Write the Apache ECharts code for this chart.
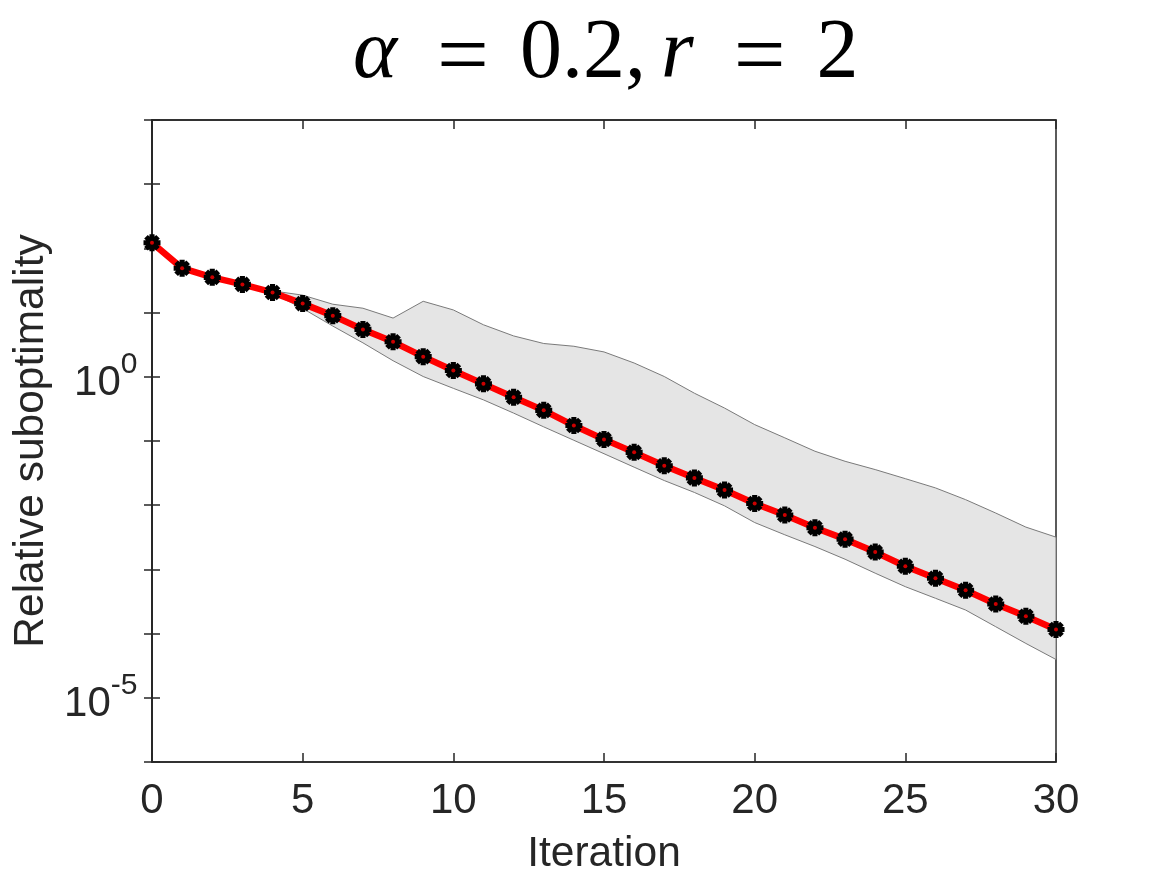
<!DOCTYPE html>
<html>
<head>
<meta charset="utf-8">
<script src="https://cdn.jsdelivr.net/npm/echarts@6/dist/echarts.min.js"></script>
<style>
  html, body { margin: 0; padding: 0; background: #fff; }
  #chart { width: 1167px; height: 875px; }
</style>
</head>
<body>
<div id="chart"></div>
<script>
// iteration index
const iters = [0, 1, 2, 3, 4, 5, 6, 7, 8, 9, 10, 11, 12, 13, 14, 15, 16, 17, 18, 19, 20,
  21, 22, 23, 24, 25, 26, 27, 28, 29, 30];
// mean relative suboptimality (red line)
const meanVals = [122.5, 49.1, 35.4, 27.5, 20.6, 13.8, 8.97, 5.47, 3.51, 2.06, 1.256,
  0.776, 0.48, 0.3, 0.174, 0.106, 0.0665, 0.0411, 0.0266, 0.01726, 0.01064,
  0.00703, 0.00445, 0.00296, 0.00186, 0.00112, 0.000728, 0.000473, 0.000289, 0.000186, 0.000116];
// upper edge of grey band
const upperVals = [122.5, 49.1, 35.4, 27.5, 21.8, 18.7, 13.5, 11.7, 8.22, 15.0, 11.0,
  6.46, 4.33, 3.3, 2.99, 2.44, 1.64, 1.01, 0.555, 0.326, 0.18,
  0.112, 0.0693, 0.0483, 0.0359, 0.0259, 0.0186, 0.0122, 0.00755, 0.00456, 0.00318];
// lower edge of grey band
const lowerVals = [122.5, 49.1, 35.4, 27.5, 20.0, 11.6, 6.17, 3.38, 1.78, 1.01, 0.661,
  0.437, 0.272, 0.166, 0.1026, 0.0634, 0.0391, 0.0242, 0.0158, 0.00977, 0.00537,
  0.00346, 0.00227, 0.00144, 0.000873, 0.000538, 0.000355, 0.000233, 0.000128, 0.0000703, 0.0000395];
// y tick exponents that get a label
const yLabelExps = [0, -5];

const sans = '"Liberation Sans", Arial, Helvetica, sans-serif';
const serif = '"Liberation Serif", "Times New Roman", serif';
const axisCol = '#262626';

// MATLAB-like '*' marker drawn thick (8 spokes)
const starPath = 'path://M0 7L20 7L20 13L0 13Z M7 0L13 0L13 20L7 20Z ' +
  'M5.05 0.81L19.19 14.95L14.95 19.19L0.81 5.05Z M14.95 0.81L19.19 5.05L5.05 19.19L0.81 14.95Z';

let chart = echarts.init(document.getElementById('chart'));

let lineData = iters.map((x, i) => [x, meanVals[i]]);

let option = {
    animation: false,
    backgroundColor: '#fff',
    title: {
        text: '{a|α}{e|=}{n|0.2,}{r|r}{e|=}{n|2}',
        left: 348,
        top: -3,
        textStyle: {
            fontWeight: 'normal',
            rich: {
                a: { fontFamily: serif, fontStyle: 'italic', fontWeight: 'normal', fontSize: 84, color: '#000' },
                r: { fontFamily: serif, fontStyle: 'italic', fontWeight: 'normal', fontSize: 84, color: '#000', padding: [0, 0, 0, 15] },
                e: { fontFamily: serif, fontWeight: 'normal', fontSize: 92, color: '#000', padding: [13, 31, 0, 40] },
                n: { fontFamily: serif, fontWeight: 'normal', fontSize: 84, color: '#000' }
            }
        }
    },
    grid: {
        left: 152,
        right: 111,
        top: 120,
        bottom: 113,
        outerBoundsMode: 'none',
        show: true,
        borderColor: axisCol,
        borderWidth: 1.5,
        backgroundColor: 'transparent'
    },
    xAxis: [{
        type: 'value',
        min: 0,
        max: 30,
        interval: 5,
        name: 'Iteration',
        nameLocation: 'middle',
        nameGap: 71,
        nameTextStyle: { fontFamily: sans, fontSize: 42.5, color: axisCol },
        axisLine: { show: true, lineStyle: { color: axisCol, width: 1.5 } },
        axisTick: { inside: true, length: 9, lineStyle: { color: axisCol, width: 1.5 } },
        axisLabel: { margin: 18, fontFamily: sans, fontSize: 42, color: axisCol },
        splitLine: { show: false }
    }, {
        type: 'value',
        position: 'top',
        min: 0,
        max: 30,
        interval: 5,
        axisLine: { show: true, lineStyle: { color: axisCol, width: 1.5 } },
        axisTick: { inside: true, length: 9, lineStyle: { color: axisCol, width: 1.5 } },
        axisLabel: { show: false },
        splitLine: { show: false }
    }],
    yAxis: [{
        type: 'log',
        logBase: 10,
        min: 1e-6,
        max: 1e4,
        interval: 1,
        splitNumber: 10,
        name: 'Relative suboptimality',
        nameLocation: 'middle',
        nameGap: 98,
        nameTextStyle: { fontFamily: sans, fontSize: 42.5, color: axisCol },
        axisLine: { show: true, lineStyle: { color: axisCol, width: 1.5 } },
        axisTick: { inside: true, length: 8, lineStyle: { color: axisCol, width: 1.5 } },
        axisLabel: {
            margin: 14,
            showMinLabel: true,
            showMaxLabel: true,
            interval: 0,
            formatter: function (v) {
                let e = Math.round(Math.log10(v));
                if (yLabelExps.indexOf(e) < 0) return '';
                return '{b|10}{s|' + e + '}{h| }';
            },
            rich: {
                b: { fontFamily: sans, fontSize: 42, lineHeight: 42, verticalAlign: 'bottom', color: axisCol },
                s: { fontFamily: sans, fontSize: 30, lineHeight: 36, verticalAlign: 'top', color: axisCol },
                h: { fontSize: 2, lineHeight: 55 }
            }
        },
        splitLine: { show: false }
    }, {
        type: 'log',
        logBase: 10,
        position: 'right',
        min: 1e-6,
        max: 1e4,
        interval: 1,
        splitNumber: 10,
        axisLine: { show: true, lineStyle: { color: axisCol, width: 1.5 } },
        axisTick: { inside: true, length: 8, lineStyle: { color: axisCol, width: 1.5 } },
        axisLabel: { show: false },
        splitLine: { show: false }
    }],
    series: [{
        // grey min/max band
        type: 'custom',
        z: 1,
        silent: true,
        data: [[0, meanVals[0]]],
        renderItem: function (params, api) {
            let pts = [];
            for (let i = 0; i < iters.length; i++) pts.push(api.coord([iters[i], upperVals[i]]));
            for (let i = iters.length - 1; i >= 0; i--) pts.push(api.coord([iters[i], lowerVals[i]]));
            return {
                type: 'polygon',
                shape: { points: pts },
                style: { fill: '#e5e5e5', stroke: '#7a7a7a', lineWidth: 1 }
            };
        }
    }, {
        type: 'line',
        z: 3,
        data: lineData,
        symbol: starPath,
        symbolSize: 17,
        showAllSymbol: true,
        lineStyle: { color: '#ff0000', width: 6.5 },
        itemStyle: { color: '#000' }
    }, {
        // red centre of each marker
        type: 'scatter',
        z: 4,
        data: lineData,
        symbol: 'circle',
        symbolSize: 4,
        itemStyle: { color: '#ff0000' }
    }]
};

chart.setOption(option);
</script>
</body>
</html>
